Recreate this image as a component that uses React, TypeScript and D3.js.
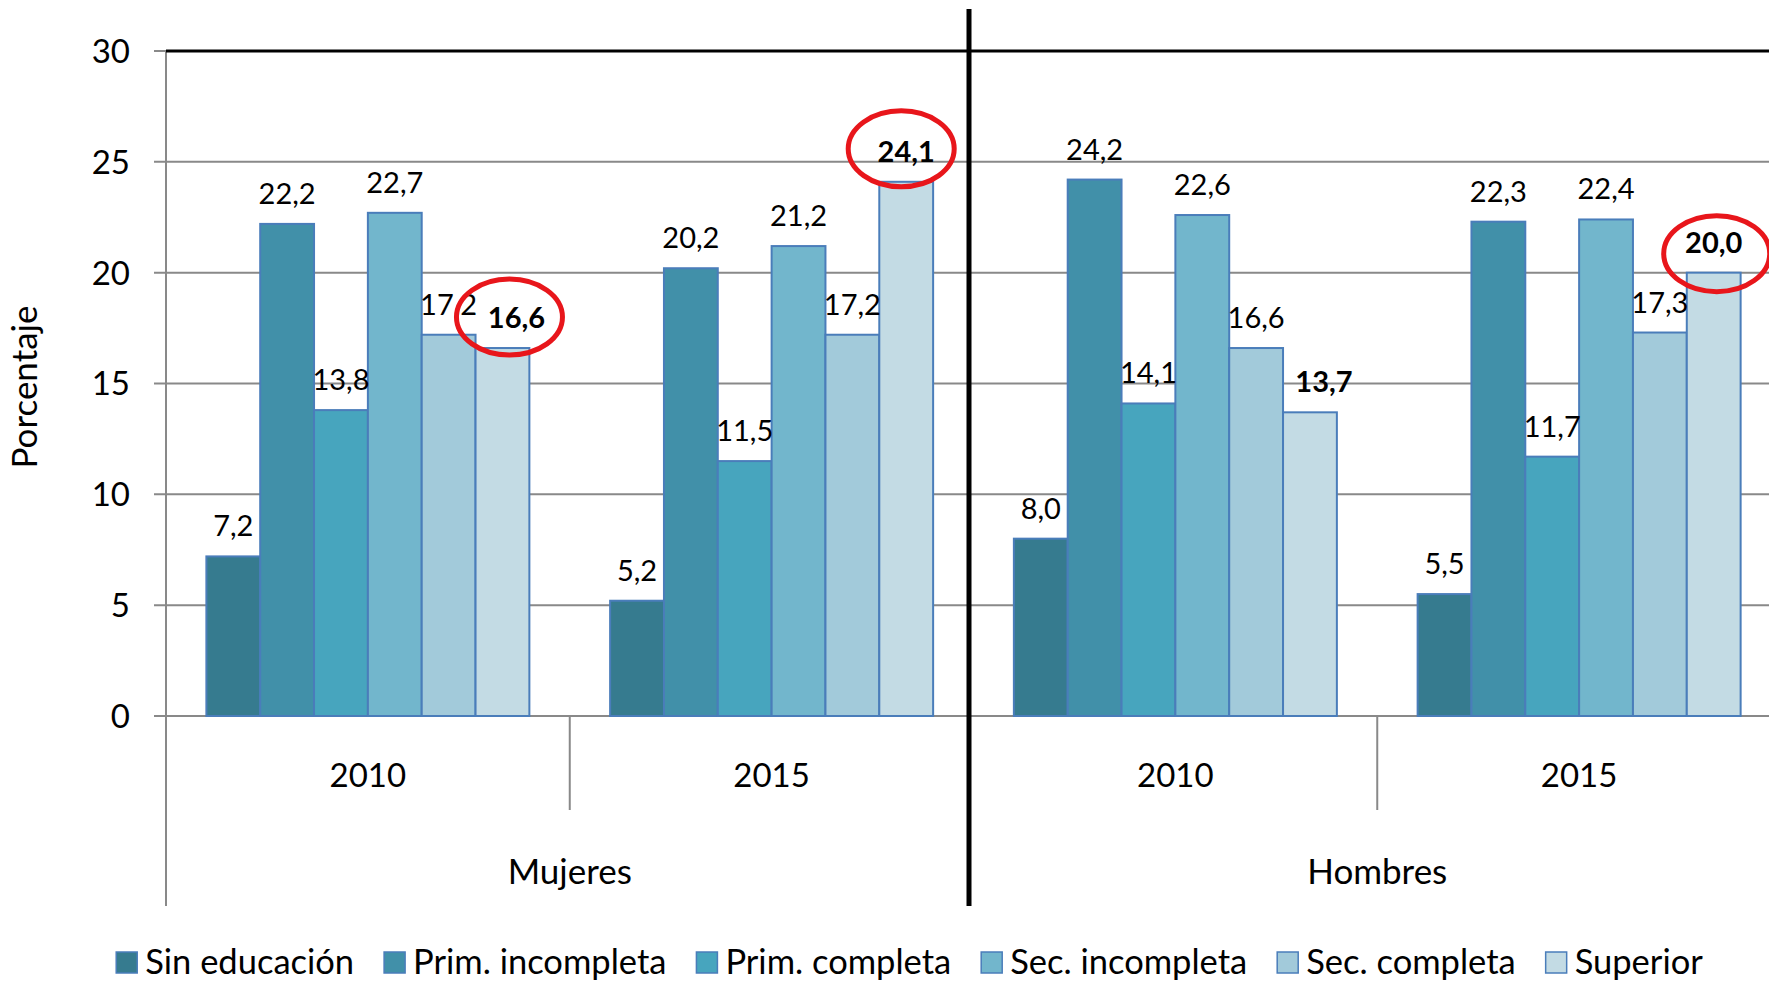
import React, { useEffect, useRef } from 'react';
import * as d3 from 'd3';

// groups / years on the category axis
const groups = ['Mujeres', 'Hombres'];
const years = ['2010', '2015'];
const series = [
  'Sin educación',
  'Prim. incompleta',
  'Prim. completa',
  'Sec. incompleta',
  'Sec. completa',
  'Superior'
];
const colors = ['#367B8F', '#4190A9', '#47A5BE', '#72B6CC', '#A2CADA', '#C3DBE4'];

// percentages, one array per group/year
const mujeres2010 = [7.2, 22.2, 13.8, 22.7, 17.2, 16.6];
const mujeres2015 = [5.2, 20.2, 11.5, 21.2, 17.2, 24.1];
const hombres2010 = [8.0, 24.2, 14.1, 22.6, 16.6, 13.7];
const hombres2015 = [5.5, 22.3, 11.7, 22.4, 17.3, 20.0];
const yTicks = [0, 5, 10, 15, 20, 25, 30];

// "Superior" values that carry a red circle
const circled = ['Mujeres 2010', 'Mujeres 2015', 'Hombres 2015'];

const W = 1769;
const H = 983;
const FONT = 'Lato, "Open Sans", sans-serif';

export default function App() {
  const ref = useRef<SVGSVGElement>(null);

  useEffect(() => {
    const svg = d3.select(ref.current);
    svg.selectAll('*').remove();

    const cats = groups.flatMap(g => years.map(yr => `${g} ${yr}`));
    const values: Record<string, number[]> = {
      'Mujeres 2010': mujeres2010,
      'Mujeres 2015': mujeres2015,
      'Hombres 2010': hombres2010,
      'Hombres 2015': hombres2015
    };

    const left = 166;
    const x0 = d3.scaleBand().domain(cats).range([left, 1781]);
    const x1 = d3.scaleBand().domain(series).range([0, x0.bandwidth()]).paddingOuter(0.75);
    const y = d3.scaleLinear().domain([0, 30]).range([716, 51]);
    const fmt = (v: number) => d3.format('.1f')(v).replace('.', ',');

    // gridlines
    svg
      .append('g')
      .selectAll('line')
      .data(yTicks.filter(t => t < 30))
      .join('line')
      .attr('x1', left - 12)
      .attr('x2', W)
      .attr('y1', d => y(d))
      .attr('y2', d => y(d))
      .attr('stroke', '#898989')
      .attr('stroke-width', 2);
    // tick for 30
    svg
      .append('line')
      .attr('x1', left - 12)
      .attr('x2', left)
      .attr('y1', y(30))
      .attr('y2', y(30))
      .attr('stroke', '#898989')
      .attr('stroke-width', 2);

    // tick labels
    svg
      .append('g')
      .selectAll('text')
      .data(yTicks)
      .join('text')
      .attr('x', 130)
      .attr('y', d => y(d))
      .attr('dy', '0.36em')
      .attr('text-anchor', 'end')
      .attr('font-family', FONT)
      .attr('font-size', 33)
      .text(d => d);

    // y axis line
    svg
      .append('line')
      .attr('x1', left)
      .attr('x2', left)
      .attr('y1', y(30))
      .attr('y2', 906)
      .attr('stroke', '#898989')
      .attr('stroke-width', 2);

    // separators between years inside a group
    svg
      .append('g')
      .selectAll('line')
      .data(groups)
      .join('line')
      .attr('x1', g => (x0(`${g} ${years[1]}`) as number))
      .attr('x2', g => (x0(`${g} ${years[1]}`) as number))
      .attr('y1', y(0))
      .attr('y2', 810)
      .attr('stroke', '#898989')
      .attr('stroke-width', 2);

    // bars
    const cg = svg
      .append('g')
      .selectAll('g')
      .data(cats)
      .join('g')
      .attr('transform', c => `translate(${x0(c)},0)`);

    cg.selectAll('rect')
      .data(c => values[c].map((v, i) => ({ c, v, s: series[i], i })))
      .join('rect')
      .attr('x', d => x1(d.s) as number)
      .attr('y', d => y(d.v))
      .attr('width', x1.bandwidth())
      .attr('height', d => y(0) - y(d.v))
      .attr('fill', d => colors[d.i])
      .attr('stroke', '#4A7DBA')
      .attr('stroke-width', 2);

    // data labels
    cg.selectAll('text')
      .data(c => values[c].map((v, i) => ({ c, v, s: series[i], i })))
      .join('text')
      .attr('x', d => {
        const cx = (x1(d.s) as number) + x1.bandwidth() / 2;
        const prev = d.i > 0 ? values[d.c][d.i - 1] : 0;
        return d.i === 5 && prev > d.v ? cx + 14 : cx;
      })
      .attr('y', d => y(d.v) - 20)
      .attr('text-anchor', 'middle')
      .attr('font-family', FONT)
      .attr('font-size', 29)
      .attr('font-weight', d => (d.i === 5 ? 'bold' : 'normal'))
      .text(d => fmt(d.v));

    // red circles (small hand-placed nudges as in the original)
    const nudge: Record<string, [number, number]> = {
      'Mujeres 2010': [7, -31],
      'Mujeres 2015': [-5, -33],
      'Hombres 2015': [3, -19]
    };
    svg
      .append('g')
      .selectAll('ellipse')
      .data(circled)
      .join('ellipse')
      .attr('cx', c => (x0(c) as number) + (x1('Superior') as number) + x1.bandwidth() / 2 + nudge[c][0])
      .attr('cy', c => y(values[c][5]) + nudge[c][1])
      .attr('rx', 53)
      .attr('ry', 38)
      .attr('fill', 'none')
      .attr('stroke', '#E8161B')
      .attr('stroke-width', 5);

    // top border and divider
    svg
      .append('line')
      .attr('x1', left)
      .attr('x2', W)
      .attr('y1', y(30))
      .attr('y2', y(30))
      .attr('stroke', '#000')
      .attr('stroke-width', 3);
    svg
      .append('line')
      .attr('x1', 969)
      .attr('x2', 969)
      .attr('y1', 9)
      .attr('y2', 906)
      .attr('stroke', '#000')
      .attr('stroke-width', 5);

    // year labels
    svg
      .append('g')
      .selectAll('text')
      .data(cats)
      .join('text')
      .attr('x', c => (x0(c) as number) + x0.bandwidth() / 2)
      .attr('y', 787)
      .attr('text-anchor', 'middle')
      .attr('font-family', FONT)
      .attr('font-size', 33)
      .text(c => c.split(' ')[1]);

    // group labels
    svg
      .append('g')
      .selectAll('text')
      .data(groups)
      .join('text')
      .attr('x', g => (x0(`${g} ${years[1]}`) as number))
      .attr('y', 884)
      .attr('text-anchor', 'middle')
      .attr('font-family', FONT)
      .attr('font-size', 35)
      .text(g => g);

    // y title
    svg
      .append('text')
      .attr('transform', 'translate(37,387) rotate(-90)')
      .attr('text-anchor', 'middle')
      .attr('font-family', FONT)
      .attr('font-size', 35)
      .text('Porcentaje');

    // legend
    const lg = svg.append('g');
    let cx = 0;
    series.forEach((s, i) => {
      const item = lg.append('g').attr('transform', `translate(${cx},0)`);
      item
        .append('rect')
        .attr('x', 0)
        .attr('y', -22)
        .attr('width', 21)
        .attr('height', 21)
        .attr('fill', colors[i])
        .attr('stroke', '#4A7DBA')
        .attr('stroke-width', 1.5);
      const t = item
        .append('text')
        .attr('x', 29)
        .attr('y', 0)
        .attr('font-family', FONT)
        .attr('font-size', 34.5)
        .text(s);
      const tw = (t.node() as SVGTextElement).getComputedTextLength();
      cx += 29 + tw + 30;
    });
    const total = cx - 30;
    lg.attr('transform', `translate(${909.5 - total / 2},974)`);
  }, []);

  return (
    <svg
      ref={ref}
      width={W}
      height={H}
      style={{ position: 'absolute', left: 0, top: 0, background: '#fff' }}
    />
  );
}
